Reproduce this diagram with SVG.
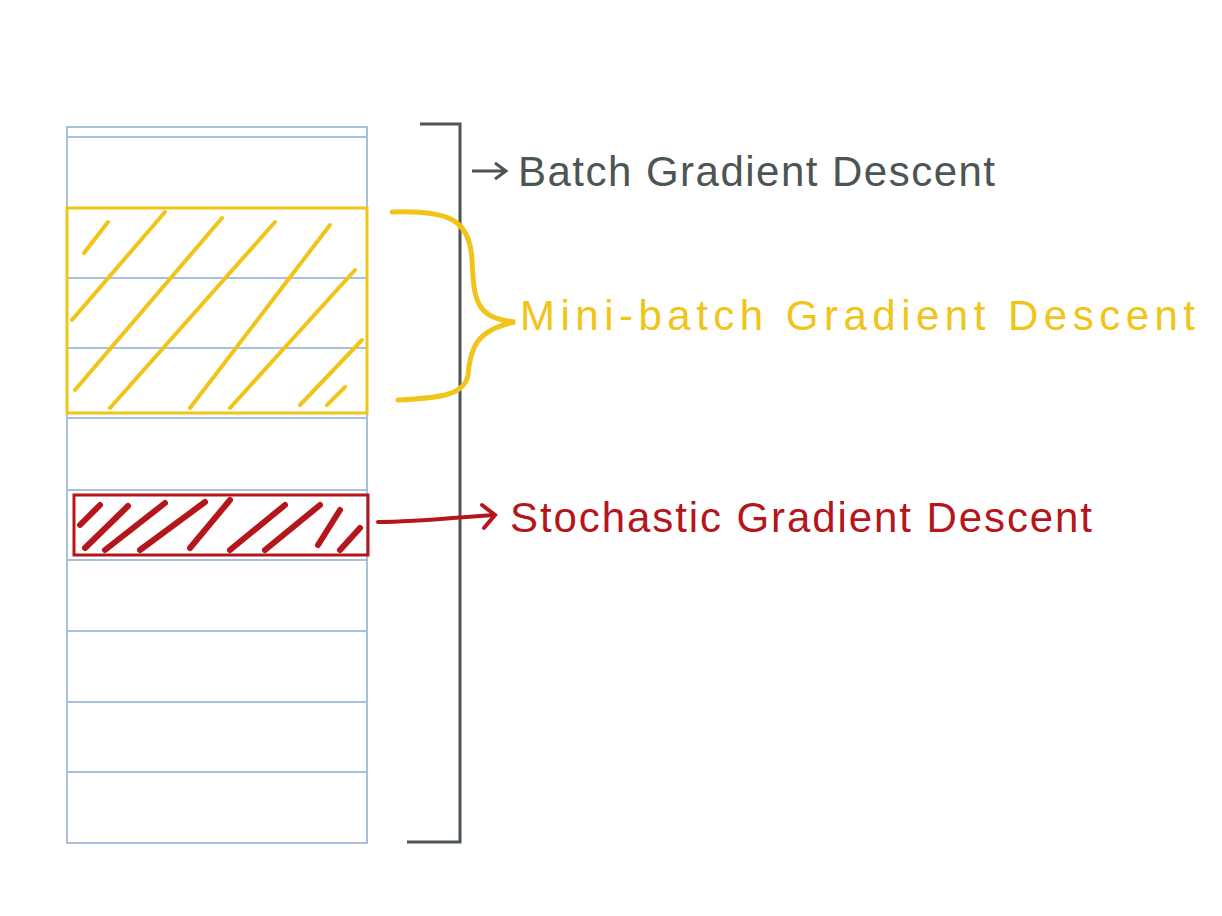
<svg xmlns="http://www.w3.org/2000/svg" width="1222" height="916" viewBox="0 0 1222 916">
<style>
.grid{stroke:#a7c0dc;stroke-width:2;fill:none}
.y{stroke:#f0c419;fill:none;stroke-linecap:round}
.r{stroke:#b5161c;fill:none;stroke-linecap:round}
.g{stroke:#4b5553;fill:none;stroke-width:3}
text{font-family:"Liberation Sans",sans-serif;font-size:42px}
</style>
<rect width="1222" height="916" fill="#fff"/>
<g id="table">
<rect class="grid" x="67" y="127" width="300" height="716"/>
<path class="grid" d="M67 137H367M67 208H367M67 278H367M67 348H367M67 418H367M67 490H367M67 560H367M67 631H367M67 702H367M67 772H367"/>
</g>
<g id="minibatch">
<rect x="67" y="208" width="300" height="205" fill="none" stroke="#f0c419" stroke-width="3"/>
<path class="y" stroke-width="4" d="M84 253L108 222M72 320L165 212M75 390L222 218M110 408L275 222M190 408L330 225M230 408L355 270M300 405L362 340M327 405L345 387"/>
</g>
<g id="sgd">
<rect x="74" y="495" width="294" height="60" fill="none" stroke="#b5161c" stroke-width="3"/>
<path class="r" stroke-width="6" d="M80 525L100 505M85 548L128 506M105 550L165 503M140 550L205 502M190 548L230 500M230 550L285 505M265 550L320 505M318 545L340 510M340 550L360 528"/>
</g>
<g id="connectors">
<path class="g" d="M420 124H460V842H407"/>
<path class="g" d="M472 171H505M495 163L506 171L495 179"/>
<path class="y" stroke-width="5" d="M392 212C450 210 470 220 472 260C474 300 475 318 515 322C475 330 470 350 468 375C465 395 440 398 398 400"/>
<path class="r" stroke-width="4" d="M378 522C420 522 460 517 493 515M482 505L495 515L484 528"/>
</g>
<g id="labels">
<text x="518" y="186" fill="#4b5553" textLength="477" lengthAdjust="spacing">Batch Gradient Descent</text>
<text x="520" y="330" fill="#f0c419" textLength="675" lengthAdjust="spacing">Mini-batch Gradient Descent</text>
<text x="510" y="532" fill="#b5161c" textLength="582" lengthAdjust="spacing">Stochastic Gradient Descent</text>
</g>
</svg>
